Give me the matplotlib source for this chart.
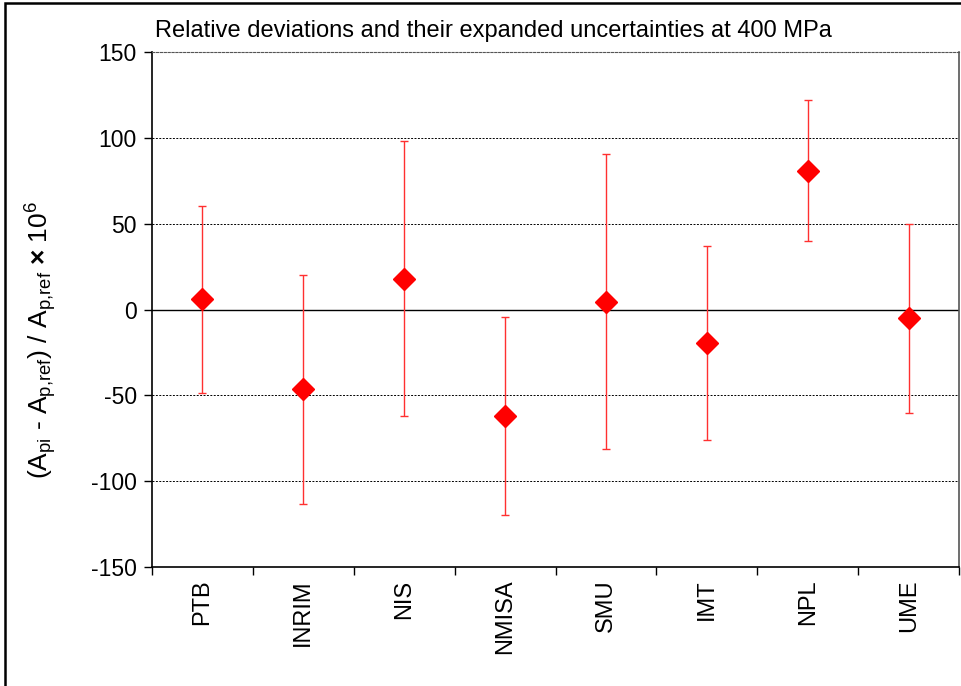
import matplotlib
matplotlib.use("Agg")
import matplotlib.pyplot as plt
import numpy as np
from matplotlib.patches import Rectangle

plt.rcParams["font.family"] = ["Liberation Sans", "DejaVu Sans"]
plt.rcParams["mathtext.fontset"] = "custom"
plt.rcParams["mathtext.rm"] = "Liberation Sans"
plt.rcParams["mathtext.it"] = "Liberation Sans:italic"
plt.rcParams["mathtext.bf"] = "Liberation Sans:bold"
plt.rcParams["axes.unicode_minus"] = False

# relative deviation (x 1e6) and expanded uncertainty per lab at 400 MPa
labs = ["PTB", "INRIM", "NIS", "NMISA", "SMU", "IMT", "NPL", "UME"]
deviation = [6.0, -46.5, 18.0, -62.0, 4.5, -19.5, 81.0, -5.0]
uncertainty = [54.5, 66.7, 80.2, 57.8, 86.0, 56.8, 41.3, 55.0]

fig = plt.figure(figsize=(9.61, 6.86), dpi=100)
ax = fig.add_axes([0.1582, 0.1735, 0.8398, 0.7505])

x = np.arange(len(labs)) + 0.5
ax.errorbar(x, deviation, yerr=uncertainty, fmt="none", ecolor="#ff3030",
            elinewidth=1.0, capsize=3, capthick=1.0, zorder=3)
ax.plot(x, deviation, linestyle="none", marker="D", markersize=11,
        color="#ff0000", markeredgecolor="#ff0000", zorder=4)

ax.set_xlim(0, len(labs))
ax.set_ylim(-150, 150)
ax.set_yticks(np.arange(-150, 151, 50))
ax.tick_params(axis="y", direction="out", length=6, width=1, labelsize=16.5, pad=5)

# category ticks sit on the boundaries, names in between
ax.set_xticks(np.arange(len(labs) + 1))
ax.set_xticklabels([])
ax.set_xticks(x, minor=True)
ax.set_xticklabels(labs, minor=True, rotation=90, fontsize=17, va="top")
ax.tick_params(axis="x", which="major", direction="out", length=6, width=1)
ax.tick_params(axis="x", which="minor", length=0, pad=9)

for yv in (-100, -50, 50, 100):
    ax.axhline(yv, color="black", linestyle=(0, (2, 1.5)), linewidth=0.7, zorder=1)
ax.axhline(0, color="black", linewidth=1.0, zorder=1)

ax.spines["top"].set_linestyle((0, (2, 1.5)))
ax.spines["top"].set_linewidth(0.8)
ax.spines["top"].set_color("#555555")
ax.spines["right"].set_color("#555555")
ax.spines["right"].set_linewidth(1.2)
ax.spines["left"].set_linewidth(1.2)
ax.spines["bottom"].set_linewidth(1.2)

fig.text(0.161, 0.946, "Relative deviations and their expanded uncertainties at 400 MPa",
         fontsize=17, ha="left", va="baseline")
fig.text(0.043, 0.505,
         r"(A$_{\mathrm{pi}}$ - A$_{\mathrm{p{,}ref}}$) / A$_{\mathrm{p{,}ref}}$ $\mathbf{×}$ 10$^{6}$",
         fontsize=19, rotation=90, ha="center", va="center")

# outer frame around the chart
fig.patches.append(Rectangle((5 / 961, -0.01), 1.0, 1 - 3 / 686 + 0.01,
                             transform=fig.transFigure, fill=False,
                             edgecolor="black", linewidth=1.8))

fig.savefig("out.png", dpi=100)
